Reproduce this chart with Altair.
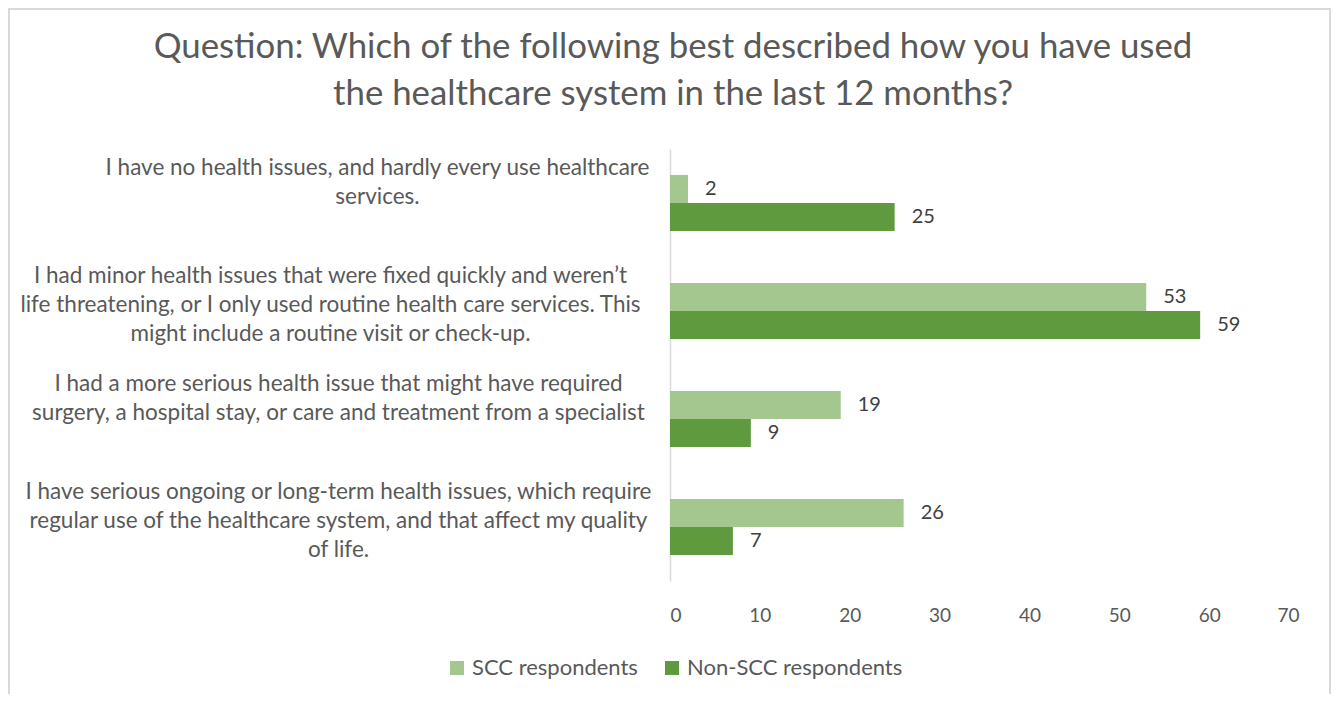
import altair as alt
import pandas as pd

title_lines = [
    "Question: Which of the following best described how you have used",
    "the healthcare system in the last 12 months?",
]
categories = [
    "I have no health issues, and hardly every use healthcare|services.",
    "I had minor health issues that were fixed quickly and weren’t|life threatening, or I only used routine health care services. This|might include a routine visit or check-up.",
    "I had a more serious health issue that might have required|surgery, a hospital stay, or care and treatment from a specialist",
    "I have serious ongoing or long-term health issues, which require|regular use of the healthcare system, and that affect my quality|of life.",
]
series = ["SCC respondents", "Non-SCC respondents"]
scc_values = [2, 53, 19, 26]
non_scc_values = [25, 59, 9, 7]
colors = ["#A3C78F", "#609A3E"]

rows = []
for i, c in enumerate(categories):
    rows.append({"cat": c, "series": series[0], "value": scc_values[i]})
    rows.append({"cat": c, "series": series[1], "value": non_scc_values[i]})
df = pd.DataFrame(rows)

FONT = "Lato"

label_padding = {
    "condition": [
        {"test": "datum.value == '%s'" % categories[0], "value": 293},
        {"test": "datum.value == '%s'" % categories[1], "value": 340},
    ],
    "value": 332,
}

base = alt.Chart(df).encode(
    y=alt.Y("cat:N", sort=categories, title=None,
            scale=alt.Scale(paddingInner=0.48, paddingOuter=0.24),
            axis=alt.Axis(labelExpr="split(datum.label, '|')", labelAlign="center",
                          labelBaseline="top", labelOffset=-46,
                          labelPadding=label_padding, labelFontSize=22.5, labelColor="#595959",
                          labelFont=FONT, ticks=False, domainColor="#D9D9D9",
                          domainWidth=1.5, labelLineHeight=29, grid=False,
                          labelLimit=800)),
    yOffset=alt.YOffset("series:N", sort=series),
)

bars = base.mark_bar().encode(
    x=alt.X("value:Q", title=None, scale=alt.Scale(domain=[0, 70]),
            axis=alt.Axis(values=[0, 10, 20, 30, 40, 50, 60, 70], grid=False, domain=False,
                          ticks=False, labelFontSize=19, labelColor="#595959", labelFont=FONT,
                          labelPadding=25)),
    color=alt.Color("series:N", sort=series,
                    scale=alt.Scale(domain=series, range=colors),
                    legend=alt.Legend(title=None, orient="none", direction="horizontal",
                                      legendX=-224, legendY=508, symbolType="square",
                                      symbolSize=196, symbolStrokeWidth=0,
                                      labelFontSize=22, labelColor="#595959", labelFont=FONT,
                                      labelLimit=400, labelOffset=4,
                                      columnPadding=23, symbolOpacity=1)),
)

text = base.mark_text(align="left", dx=17, fontSize=20, color="#404040", font=FONT).encode(
    x="value:Q",
    text="value:Q",
)

title = alt.Chart(pd.DataFrame({"t": ["|".join(title_lines)]})).mark_text(
    fontSize=34.8, font=FONT, color="#595959", align="center", baseline="middle",
    lineBreak="|", lineHeight=47,
).encode(text="t:N", x=alt.value(3), y=alt.value(-101))

frame = alt.Chart(pd.DataFrame({"f": [0]})).mark_rect(
    fill=None, stroke="#D9D9D9", strokeWidth=2
).encode(x=alt.value(-661), x2=alt.value(660), y=alt.value(-140), y2=alt.value(600))

chart = alt.layer(frame, title, bars, text).properties(
    width=629,
    height=432,
    autosize="none",
    background="white",
    padding={"left": 662, "top": 141, "right": 32, "bottom": 113},
).configure_view(strokeWidth=0, strokeOpacity=0, stroke="transparent")

chart.save("out.html", embed_options={"renderer": "svg", "actions": False})
